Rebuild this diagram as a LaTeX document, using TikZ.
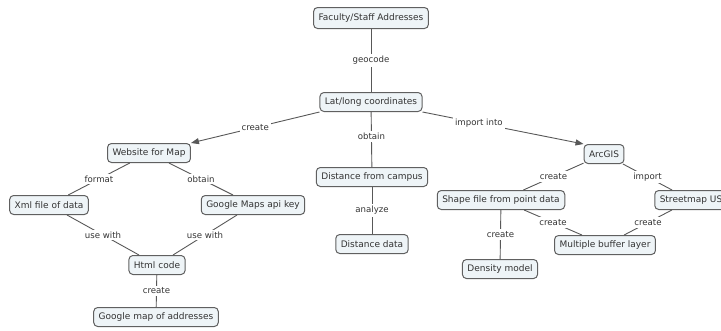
\documentclass[tikz,border=0pt]{standalone}
\usepackage{fontspec}
\setmainfont{DejaVu Sans}
\usepackage{tikz}
\usetikzlibrary{arrows.meta, positioning}

\definecolor{boxfill}{HTML}{EEF4F7}
\definecolor{boxline}{HTML}{606060}
\definecolor{linkgray}{HTML}{585858}
\definecolor{textgray}{HTML}{333333}

\begin{document}
\begin{tikzpicture}[x=1pt, y=-1pt,
  concept/.style={draw=boxline, rounded corners=4pt, fill=boxfill, line width=1pt,
                  minimum height=19pt, inner xsep=5pt, text=textgray,
                  font=\fontsize{9}{10}\selectfont},
  link/.style={draw=linkgray, line width=0.9pt},
  arr/.style={link, -{Triangle[length=8pt, width=6pt]}},
  lbl/.style={fill=white, inner sep=2pt, text=textgray, font=\fontsize{8.6}{10}\selectfont}
]
  \useasboundingbox (0,0) rectangle (721,330);

  \node[concept, minimum height=21pt] (fac) at (371,18) {Faculty/Staff Addresses};
  \node[concept] (lat)    at (371,102) {Lat/long coordinates};
  \node[concept] (web)    at (149,153) {Website for Map};
  \node[concept] (dist)   at (372,177) {Distance from campus};
  \node[concept] (ddata)  at (372,244) {Distance data};
  \node[concept] (arc)    at (604,154) {ArcGIS};
  \node[concept] (xml)    at (49,205)  {Xml file of data};
  \node[concept] (gkey)   at (253,205) {Google Maps api key};
  \node[concept] (html)   at (157,265) {Html code};
  \node[concept] (gmap)   at (156,317) {Google map of addresses};
  \node[concept] (shape)  at (501,200) {Shape file from point data};
  \node[concept] (street) at (691,200) {Streetmap US};
  \node[concept] (buffer) at (605,245) {Multiple buffer layer};
  \node[concept] (dens)   at (500,269) {Density model};

  \draw[link] (fac) -- node[lbl] {geocode} (lat);
  \draw[arr]  (lat.south west) -- node[lbl] {create} (web.north east);
  \draw[link] (lat) -- node[lbl, pos=0.45] {obtain} (dist);
  \draw[arr]  (lat.south east) -- node[lbl, pos=0.35] {import into} (arc.north west);
  \draw[link] (dist) -- node[lbl] {analyze} (ddata);

  \draw[link] (web)  -- node[lbl] {format} (xml);
  \draw[link] (web)  -- node[lbl] {obtain} (gkey);
  \draw[link] (xml)  -- node[lbl] {use with} (html);
  \draw[link] (gkey) -- node[lbl] {use with} (html);
  \draw[link] (html) -- node[lbl] {create} (gmap);

  \draw[link] (arc)    -- node[lbl] {create} (shape);
  \draw[link] (arc)    -- node[lbl] {import} (street);
  \draw[link] (shape)  -- node[lbl] {create} (buffer);
  \draw[link] (street) -- node[lbl] {create} (buffer);
  \draw[link] (shape)  -- node[lbl] {create} (dens);
\end{tikzpicture}
\end{document}
